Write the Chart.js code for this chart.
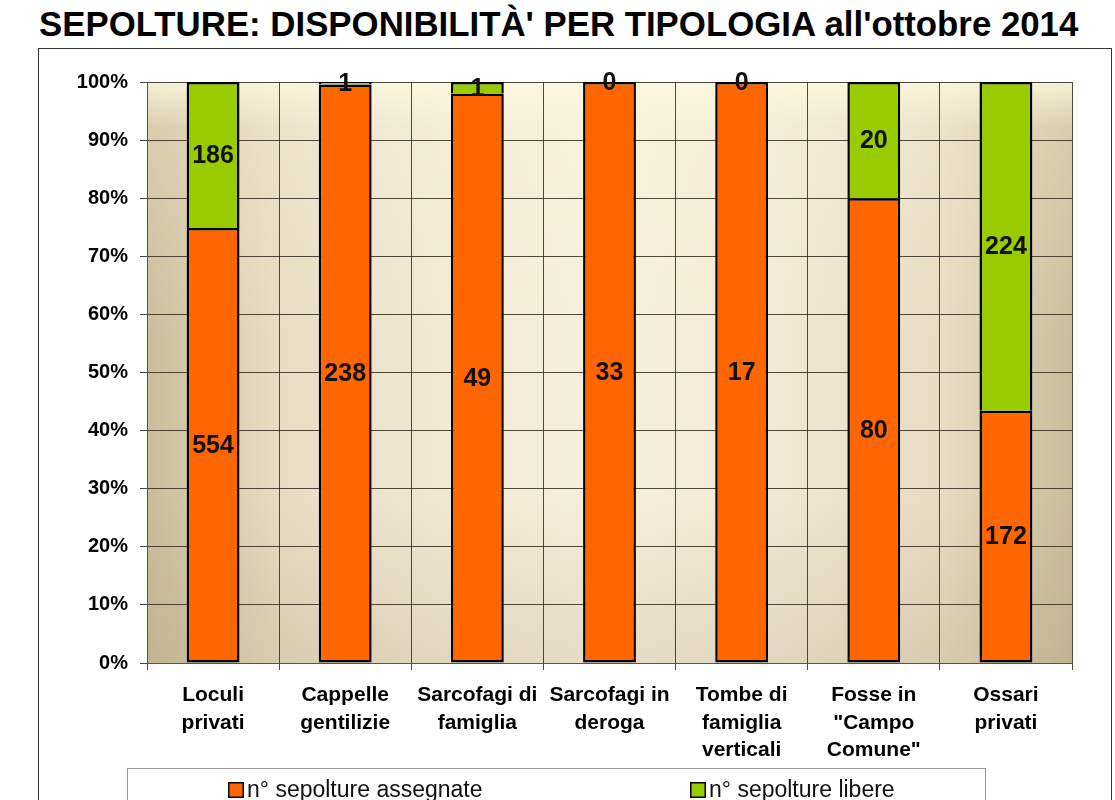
<!DOCTYPE html>
<html lang="it">
<head>
<meta charset="utf-8">
<title>Sepolture: disponibilità per tipologia</title>
<script src="https://cdn.jsdelivr.net/npm/chart.js@4.4.1/dist/chart.umd.min.js"></script>
<style>
  html, body { margin: 0; padding: 0; background: #fff; }
  body { width: 1115px; height: 800px; overflow: hidden; position: relative; font-family: Arial, "Liberation Sans", sans-serif; }
  #title {
    position: absolute; left: 39px; top: 6px; margin: 0;
    font-size: 34.8px; line-height: 35px; font-weight: bold; color: #000; white-space: nowrap;
  }
  #frame {
    position: absolute; left: 38px; top: 48px; width: 1072px; height: 800px;
    border: 1px solid #333;
  }
  #chart { position: absolute; left: 0; top: 0; }
</style>
</head>
<body>
<h1 id="title">SEPOLTURE: DISPONIBILITÀ' PER TIPOLOGIA all'ottobre 2014</h1>
<div id="frame"><canvas id="chart" width="1072" height="760"></canvas></div>
<script>
const CATEGORIES = [
  ["Loculi", "privati"],
  ["Cappelle", "gentilizie"],
  ["Sarcofagi di", "famiglia"],
  ["Sarcofagi in", "deroga"],
  ["Tombe di", "famiglia", "verticali"],
  ["Fosse in", "\"Campo", "Comune\""],
  ["Ossari", "privati"],
];
const ASSIGNED = [554, 238, 49, 33, 17, 80, 172];
const FREE = [186, 1, 1, 0, 0, 20, 224];
const SERIES_LABELS = ["n° sepolture assegnate", "n° sepolture libere"];
const Y_MAX = 100;
const Y_STEP = 10;

const ORANGE = "#ff6600";
const GREEN = "#99cc00";
const FONT = "Arial, 'Liberation Sans', sans-serif";
const GRID = "rgba(50, 42, 30, 0.85)";

// 100% stacked: share of each column total
const totals = ASSIGNED.map((v, i) => v + FREE[i]);
const toPct = (arr) => arr.map((v, i) => (totals[i] ? (v / totals[i]) * 100 : 0));

const plotBackground = {
  id: "plotBackground",
  beforeDraw(chart) {
    const { ctx, chartArea: a } = chart;
    ctx.save();
    // dark edges, light middle
    const h = ctx.createLinearGradient(a.left, 0, a.right, 0);
    h.addColorStop(0, "#cbbd9b");
    h.addColorStop(0.14, "#e6dcc2");
    h.addColorStop(0.32, "#f1e9d4");
    h.addColorStop(0.5, "#f7f0de");
    h.addColorStop(0.68, "#f1e9d4");
    h.addColorStop(0.86, "#e6dcc2");
    h.addColorStop(1, "#cbbd9b");
    ctx.fillStyle = h;
    ctx.fillRect(a.left, a.top, a.width, a.height);
    // lighter at the top, a bit darker towards the bottom
    const v = ctx.createLinearGradient(0, a.top, 0, a.bottom);
    v.addColorStop(0, "rgba(253, 249, 222, 0.85)");
    v.addColorStop(0.08, "rgba(253, 249, 222, 0.25)");
    v.addColorStop(0.45, "rgba(253, 249, 222, 0)");
    v.addColorStop(0.7, "rgba(150, 130, 90, 0)");
    v.addColorStop(1, "rgba(150, 130, 90, 0.18)");
    ctx.fillStyle = v;
    ctx.fillRect(a.left, a.top, a.width, a.height);
    ctx.restore();
  },
};

const valueLabels = {
  id: "valueLabels",
  afterDatasetsDraw(chart) {
    const { ctx } = chart;
    ctx.save();
    ctx.font = `bold 25px ${FONT}`;
    ctx.fillStyle = "#111";
    ctx.textAlign = "center";
    ctx.textBaseline = "middle";
    chart.data.datasets.forEach((ds, i) => {
      chart.getDatasetMeta(i).data.forEach((bar, j) => {
        const { x, y, base } = bar.getProps(["x", "y", "base"], true);
        ctx.fillText(String(ds.counts[j]), x, (y + base) / 2 + 1);
      });
    });
    ctx.restore();
  },
};

const boxedLegend = {
  id: "boxedLegend",
  afterDraw(chart) {
    const { ctx, chartArea: a } = chart;
    const top = a.bottom + 105;
    const left = a.left - 20;
    const right = a.left + 838;
    ctx.save();
    ctx.strokeStyle = "#9a9a9a";
    ctx.lineWidth = 1;
    ctx.strokeRect(left + 0.5, top + 0.5, right - left, 80);
    const itemX = [a.left + 81, a.left + 543];
    ctx.font = `23px ${FONT}`;
    ctx.textBaseline = "middle";
    ctx.textAlign = "left";
    chart.data.datasets.forEach((ds, i) => {
      const x = itemX[i];
      const y = top + 14;
      ctx.fillStyle = ds.backgroundColor;
      ctx.fillRect(x, y, 16, 16);
      ctx.strokeStyle = "#000";
      ctx.lineWidth = 1.5;
      ctx.strokeRect(x + 0.75, y + 0.75, 14.5, 14.5);
      ctx.fillStyle = "#111";
      ctx.fillText(ds.label, x + 19, y + 9);
    });
    ctx.restore();
  },
};

new Chart(document.getElementById("chart"), {
  type: "bar",
  data: {
    labels: CATEGORIES,
    datasets: [
      {
        label: SERIES_LABELS[0],
        data: toPct(ASSIGNED),
        counts: ASSIGNED,
        backgroundColor: ORANGE,
        borderColor: "#000",
        borderWidth: 2.5,
        borderSkipped: false,
        barPercentage: 0.4,
        categoryPercentage: 1,
      },
      {
        label: SERIES_LABELS[1],
        data: toPct(FREE),
        counts: FREE,
        backgroundColor: GREEN,
        borderColor: "#000",
        borderWidth: 2.5,
        borderSkipped: "bottom",
        barPercentage: 0.4,
        categoryPercentage: 1,
      },
    ],
  },
  options: {
    responsive: false,
    animation: false,
    layout: { padding: { left: 0, right: 39, top: 33, bottom: 41 } },
    plugins: {
      legend: { display: false },
      tooltip: { enabled: false },
    },
    scales: {
      x: {
        stacked: true,
        grid: {
          offset: true,
          color: (c) => (c.index === CATEGORIES.length ? "rgba(0,0,0,0)" : GRID),
          tickColor: GRID,
          lineWidth: 1,
          tickLength: 7,
        },
        border: { color: "#555", width: 1 },
        ticks: {
          color: "#000",
          font: { family: FONT, size: 21, weight: "bold", lineHeight: 1.3 },
          padding: 12,
          maxRotation: 0,
          autoSkip: false,
        },
        afterFit: (s) => { s.height = 105; },
      },
      y: {
        stacked: true,
        min: 0,
        max: Y_MAX,
        grid: { color: GRID, lineWidth: 1, tickLength: 7 },
        border: { color: "#555", width: 1 },
        ticks: {
          stepSize: Y_STEP,
          color: "#000",
          font: { family: FONT, size: 20, weight: "bold" },
          padding: 12,
          callback: (v) => `${v}%`,
        },
        afterFit: (s) => { s.width = 108; },
      },
    },
  },
  plugins: [plotBackground, valueLabels, boxedLegend],
});
</script>
</body>
</html>
